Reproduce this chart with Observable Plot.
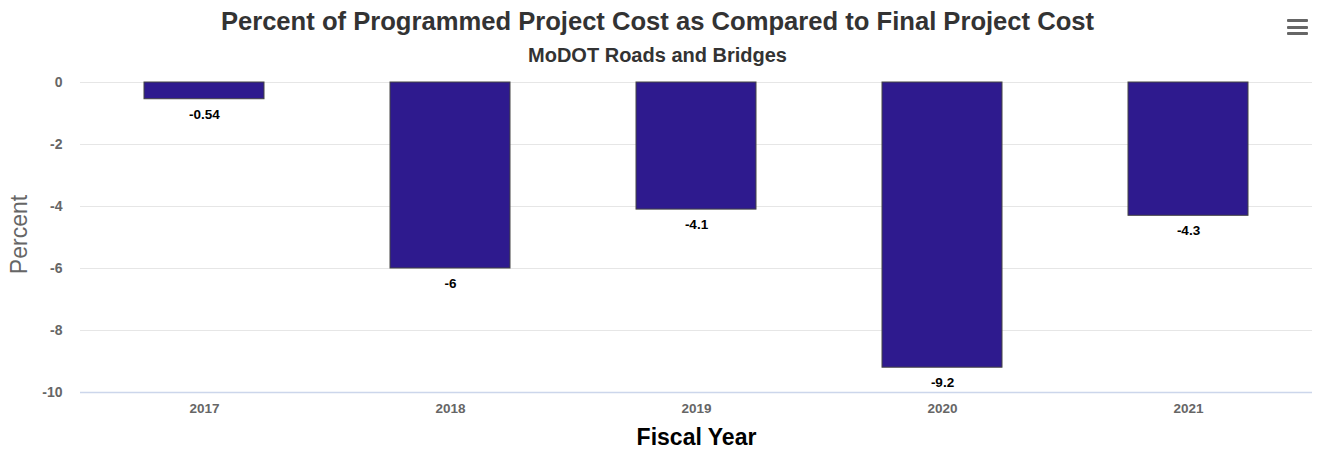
<!DOCTYPE html>
<html>
<head>
<meta charset="utf-8">
<script src="https://cdn.jsdelivr.net/npm/d3@7"></script>
<script src="https://cdn.jsdelivr.net/npm/@observablehq/plot@0.6"></script>
<style>
  body { margin: 0; background: #fff; font-family: "Liberation Sans", Arial, sans-serif; }
  #wrap { position: relative; width: 1323px; height: 450px; overflow: hidden; }
  #title { position: absolute; left: 0; top: 7px; width: 1315px; text-align: center; font-size: 25.6px; font-weight: bold; color: #333; }
  #subtitle { position: absolute; left: 0; top: 44px; width: 1315px; text-align: center; font-size: 20px; font-weight: bold; color: #333; }
  #menu { position: absolute; left: 1287px; top: 19px; width: 21px; }
  #menu div { height: 3px; background: #666; border-radius: 1px; margin-bottom: 3.5px; }
  #chart { position: absolute; left: 0; top: 72px; }
</style>
</head>
<body>
<div id="wrap">
  <div id="title">Percent of Programmed Project Cost as Compared to Final Project Cost</div>
  <div id="subtitle">MoDOT Roads and Bridges</div>
  <div id="menu"><div></div><div></div><div></div></div>
  <div id="chart"></div>
</div>
<script>
const years = ["2017", "2018", "2019", "2020", "2021"];
const values = [-0.54, -6, -4.1, -9.2, -4.3];
const yTicks = [0, -2, -4, -6, -8, -10];

const data = years.map((y, i) => ({year: y, value: values[i]}));

const plot = Plot.plot({
  width: 1323,
  height: 378,
  marginTop: 10,
  marginBottom: 58,
  marginLeft: 80,
  marginRight: 11,
  style: {fontFamily: "Liberation Sans, Arial, sans-serif", background: "#fff"},
  x: {domain: years, paddingInner: 0.513, paddingOuter: 0.2557, label: null},
  y: {domain: [-10, 0], label: null},
  marks: [
    Plot.ruleY(yTicks.filter(d => d !== -10), {stroke: "#e6e6e6", strokeWidth: 1}),
    Plot.ruleY([-10], {stroke: "#ccd6eb", strokeWidth: 1.5}),
    Plot.axisY({ticks: yTicks, tickSize: 0, tickPadding: 18, tickFormat: d => String(d), label: null,
      fontSize: 14, fontWeight: "bold", fill: "#666"}),
    Plot.axisX({tickSize: 0, tickPadding: 11, label: null, fontSize: 13.5, fontWeight: "bold", fill: "#666"}),
    Plot.barY(data, {x: "year", y1: 0, y2: "value", fill: "#2e1a8e", stroke: "#444", strokeWidth: 1}),
    Plot.text(data, {x: "year", y: "value", text: d => String(d.value), dy: 15, fontSize: 13.5, fontWeight: "bold", fill: "#000"}),
    Plot.text(["Percent"], {frameAnchor: "left", textAnchor: "middle", dx: -61, dy: -3, rotate: -90, fontSize: 23, fill: "#666"}),
    Plot.text(["Fiscal Year"], {frameAnchor: "bottom", dy: 52, fontSize: 23, fontWeight: "bold", fill: "#000"})
  ]
});
document.getElementById("chart").appendChild(plot);
</script>
</body>
</html>
